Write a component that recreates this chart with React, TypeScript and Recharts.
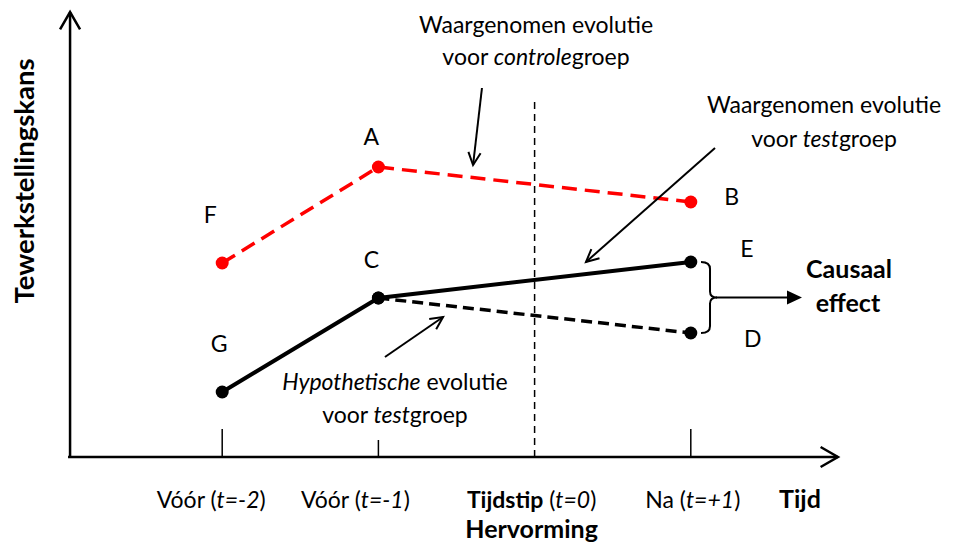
import React from 'react';
import { ComposedChart, Line, XAxis, YAxis, ReferenceLine, ReferenceDot, LabelList } from 'recharts';

// ---------- data ----------
const controlGroup = [
  { t: -2, v: 4.85, point: 'F' },
  { t: -1, v: 7.25, point: 'A' },
  { t: 1, v: 6.375, point: 'B' },
];
const testObserved = [
  { t: -2, v: 1.625, point: 'G' },
  { t: -1, v: 3.975, point: 'C' },
  { t: 1, v: 4.875, point: 'E' },
];
const testHypothetical = [
  { t: -1, v: 3.975, point: '' },
  { t: 1, v: 3.1, point: 'D' },
];
const timeTicks = [-2, -1, 0, 1];
const reformTime = 0;

type Seg = { s: string; i?: boolean; b?: boolean };
const tickLabels: Seg[][] = [
  [{ s: 'Vóór (' }, { s: 't=-2', i: true }, { s: ')' }],
  [{ s: 'Vóór (' }, { s: 't=-1', i: true }, { s: ')' }],
  [{ s: 'Tijdstip', b: true }, { s: ' (' }, { s: 't=0', i: true }, { s: ')' }],
  [{ s: 'Na (' }, { s: 't=+1', i: true }, { s: ')' }],
];
const tickSubLabels = ['', '', 'Hervorming', ''];

// ---------- layout / style ----------
const FONT = 'Lato, "Open Sans", sans-serif';
const FS = 23;
const RED = '#FF0000';
const X_DOMAIN: [number, number] = [-3, 2];
const Y_DOMAIN: [number, number] = [0, 11.25];
const tickLabelShift = [-11, -23, -3, 2];
const tickMarkHeights = [0.7, 0.425, 0, 0.7];
const reformLineTop = 8.925;
const pointLabelShift: Record<string, [number, number]> = {
  F: [-12, -40], A: [-7, -22], C: [-7, -30], G: [-3, -40],
  B: [41, 3], E: [56, -5], D: [62, 14],
};
const notes: { x: number; y: number; segs: Seg[]; size?: number; rotate?: boolean }[] = [
  { x: 0.009, y: 10.6, segs: [{ s: 'Waargenomen evolutie' }] },
  { x: 0.009, y: 9.8, segs: [{ s: 'voor ' }, { s: 'controle', i: true }, { s: 'groep' }] },
  { x: 1.853, y: 8.6, segs: [{ s: 'Waargenomen evolutie' }] },
  { x: 1.853, y: 7.75, segs: [{ s: 'voor ' }, { s: 'test', i: true }, { s: 'groep' }] },
  { x: -0.894, y: 1.675, segs: [{ s: 'Hypothetische', i: true }, { s: ' evolutie' }] },
  { x: -0.894, y: 0.85, segs: [{ s: 'voor ' }, { s: 'test', i: true }, { s: 'groep' }] },
  { x: 2.013, y: 4.475, segs: [{ s: 'Causaal', b: true }], size: 25 },
  { x: 2.006, y: 3.625, segs: [{ s: 'effect', b: true }], size: 25 },
  { x: 1.699, y: -1.275, segs: [{ s: 'Tijd', b: true }], size: 25 },
  { x: -3.205, y: 6.9, segs: [{ s: 'Tewerkstellingskans', b: true }], size: 27.5, rotate: true },
];
const pointerArrows = [
  { from: { x: -0.337, y: 9.225 }, to: { x: -0.394, y: 7.3 } },
  { from: { x: 1.155, y: 7.725 }, to: { x: 0.329, y: 4.875 } },
  { from: { x: -0.958, y: 2.5 }, to: { x: -0.586, y: 3.5 } },
];
const braceX = 1.123;
const causalFromX = 1.161;
const causalToX = 1.712;
const yAxisLine = { x: -2.974, y0: 0, y1: 11.125 };
const xAxisLine = { y: 0, x0: -2.987, x1: 1.942 };

const renderSegs = (segs: Seg[]) =>
  segs.map((sg, i) => (
    <tspan key={i} fontStyle={sg.i ? 'italic' : 'normal'} fontWeight={sg.b ? 700 : 400}>
      {sg.s}
    </tspan>
  ));

const openArrow = (head: number, width: number, deg: number) => (p: any) => {
  const { x1, y1, x2, y2 } = p;
  const ang = Math.atan2(y2 - y1, x2 - x1);
  const a = (Math.PI / 180) * deg;
  const ax = x2 - head * Math.cos(ang - a);
  const ay = y2 - head * Math.sin(ang - a);
  const bx = x2 - head * Math.cos(ang + a);
  const by = y2 - head * Math.sin(ang + a);
  return (
    <g>
      <line x1={x1} y1={y1} x2={x2} y2={y2} stroke="#000" strokeWidth={width} />
      <polyline points={`${ax},${ay} ${x2},${y2} ${bx},${by}`} fill="none" stroke="#000" strokeWidth={width} strokeLinejoin="miter" />
    </g>
  );
};

const filledArrow = (p: any) => {
  const { x1, y1, x2, y2 } = p;
  const head = 15;
  const half = 7;
  return (
    <g>
      <line x1={x1} y1={y1} x2={x2 - head + 1} y2={y2} stroke="#000" strokeWidth={2} />
      <polygon points={`${x2},${y2} ${x2 - head},${y2 - half} ${x2 - head},${y2 + half}`} fill="#000" />
    </g>
  );
};

const braceShape = (p: any) => {
  const { x1, y1, y2 } = p;
  const x = x1;
  const top = Math.min(y1, y2);
  const bot = Math.max(y1, y2);
  const ym = (top + bot) / 2;
  const d = `M ${x - 9} ${top} Q ${x} ${top} ${x} ${top + 7} L ${x} ${ym - 6} Q ${x} ${ym} ${x + 7} ${ym} Q ${x} ${ym} ${x} ${ym + 6} L ${x} ${bot - 7} Q ${x} ${bot} ${x - 9} ${bot}`;
  return <path d={d} fill="none" stroke="#000" strokeWidth={2} />;
};

const plainLine = (width: number, dash?: string) => (p: any) => (
  <line x1={p.x1} y1={p.y1} x2={p.x2} y2={p.y2} stroke="#000" strokeWidth={width} strokeDasharray={dash} />
);

const renderTick = (props: any) => {
  const { x, y, index } = props;
  const segs = tickLabels[index];
  const sub = tickSubLabels[index];
  const cx = x + tickLabelShift[index];
  return (
    <g>
      <text x={cx} y={y + 51} textAnchor="middle" fontFamily={FONT} fontSize={FS} fill="#000">
        {renderSegs(segs)}
      </text>
      {sub ? (
        <text x={cx} y={y + 81} textAnchor="middle" fontFamily={FONT} fontSize={25} fontWeight={700} fill="#000">
          {sub}
        </text>
      ) : null}
    </g>
  );
};

const pointLabel = (props: any) => {
  const { x, y, value } = props;
  if (!value) return null;
  const [dx, dy] = pointLabelShift[value] || [0, 0];
  return (
    <text x={x + dx} y={y + dy} textAnchor="middle" fontFamily={FONT} fontSize={FS} fill="#000">
      {value}
    </text>
  );
};

const noteShape = (n: (typeof notes)[number]) => (p: any) => (
  <text
    x={p.cx}
    y={p.cy}
    textAnchor="middle"
    fontFamily={FONT}
    fontSize={n.size || FS}
    fill="#000"
    transform={n.rotate ? `rotate(-90 ${p.cx} ${p.cy})` : undefined}
  >
    {renderSegs(n.segs)}
  </text>
);

export default function App() {
  const eVal = testObserved[testObserved.length - 1].v;
  const dVal = testHypothetical[testHypothetical.length - 1].v;
  const midVal = (eVal + dVal) / 2;
  return (
    <div style={{ position: 'absolute', left: 0, top: 0, background: '#fff' }}>
      <ComposedChart width={953} height={550} margin={{ top: 7, right: 106, bottom: 63, left: 66 }}>
        <XAxis
          type="number"
          dataKey="t"
          domain={X_DOMAIN}
          ticks={timeTicks}
          allowDataOverflow
          axisLine={false}
          tickLine={false}
          tickSize={0}
          tickMargin={0}
          height={30}
          interval={0}
          tick={renderTick}
        />
        <YAxis type="number" domain={Y_DOMAIN} allowDataOverflow hide />

        {/* axes with arrowheads */}
        <ReferenceLine
          segment={[{ x: yAxisLine.x, y: yAxisLine.y0 }, { x: yAxisLine.x, y: yAxisLine.y1 }]}
          ifOverflow="visible"
          shape={openArrow(20, 2.5, 30)}
        />
        <ReferenceLine
          segment={[{ x: xAxisLine.x0, y: xAxisLine.y }, { x: xAxisLine.x1, y: xAxisLine.y }]}
          ifOverflow="visible"
          shape={openArrow(20, 2.5, 30)}
        />
        {timeTicks.map((t, i) =>
          tickMarkHeights[i] > 0 ? (
            <ReferenceLine
              key={'tk' + i}
              segment={[{ x: t, y: 0 }, { x: t, y: tickMarkHeights[i] }]}
              ifOverflow="visible"
              shape={plainLine(1.5)}
            />
          ) : null
        )}
        <ReferenceLine
          segment={[{ x: reformTime, y: 0 }, { x: reformTime, y: reformLineTop }]}
          ifOverflow="visible"
          shape={plainLine(1.5, '7 5')}
        />

        {/* series */}
        <Line
          data={controlGroup}
          dataKey="v"
          stroke={RED}
          strokeWidth={3.5}
          strokeDasharray="15 8"
          dot={{ r: 6.5, fill: RED, stroke: 'none', strokeDasharray: 'none' }}
          isAnimationActive={false}
        >
          <LabelList dataKey="point" content={pointLabel} />
        </Line>
        <Line
          data={testHypothetical}
          dataKey="v"
          stroke="#000"
          strokeWidth={3.5}
          strokeDasharray="11 6"
          dot={{ r: 6.5, fill: '#000', stroke: 'none', strokeDasharray: 'none' }}
          isAnimationActive={false}
        >
          <LabelList dataKey="point" content={pointLabel} />
        </Line>
        <Line
          data={testObserved}
          dataKey="v"
          stroke="#000"
          strokeWidth={4}
          dot={{ r: 6.5, fill: '#000', stroke: 'none' }}
          isAnimationActive={false}
        >
          <LabelList dataKey="point" content={pointLabel} />
        </Line>

        {/* brace + causal arrow */}
        <ReferenceLine
          segment={[{ x: braceX, y: eVal }, { x: braceX, y: dVal }]}
          ifOverflow="visible"
          shape={braceShape}
        />
        <ReferenceLine
          segment={[{ x: causalFromX, y: midVal }, { x: causalToX, y: midVal }]}
          ifOverflow="visible"
          shape={filledArrow}
        />

        {/* pointer arrows */}
        {pointerArrows.map((a, i) => (
          <ReferenceLine key={'pa' + i} segment={[a.from, a.to]} ifOverflow="visible" shape={openArrow(14, 2, 26)} />
        ))}

        {/* text notes */}
        {notes.map((n, i) => (
          <ReferenceDot key={'n' + i} x={n.x} y={n.y} r={0} ifOverflow="visible" shape={noteShape(n)} />
        ))}
      </ComposedChart>
    </div>
  );
}
